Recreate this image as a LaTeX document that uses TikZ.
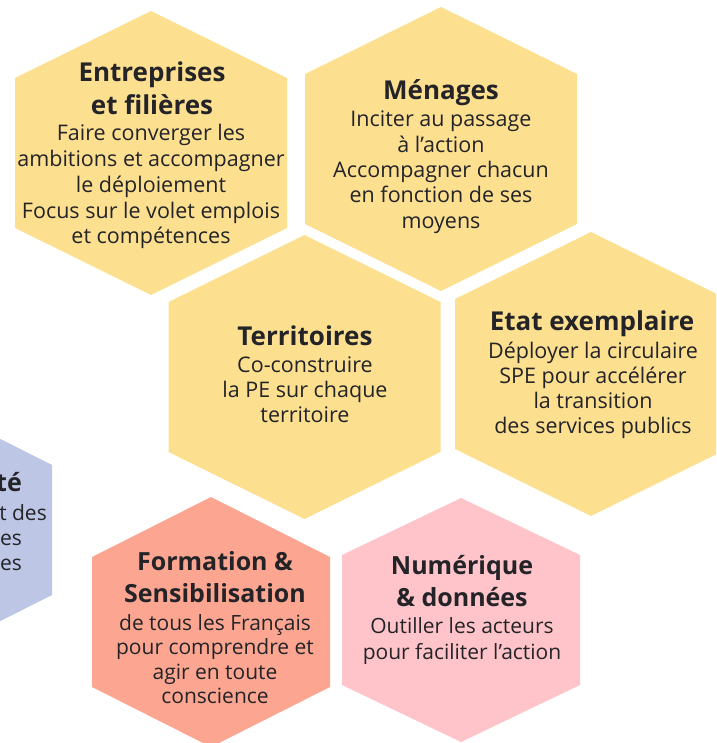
\documentclass[tikz,border=0pt]{standalone}
\usepackage{fontspec}
\setmainfont{Open Sans}
\definecolor{hexyellow}{RGB}{252,224,144}
\definecolor{hexsalmon}{RGB}{252,166,145}
\definecolor{hexpink}{RGB}{254,196,201}
\definecolor{hexblue}{RGB}{189,198,229}
\definecolor{txtdark}{RGB}{35,35,40}
\newcommand\hexshape[6]{% cx cy halfwidth halfside R colour
  \fill[#6] (#1,#2-#5) -- (#1+#3,#2-#4) -- (#1+#3,#2+#4) -- (#1,#2+#5)
    -- (#1-#3,#2+#4) -- (#1-#3,#2-#4) -- cycle;}
\newcommand\hexlines[6]{% style name x y0 dy list
  \foreach \t [count=\i] in {#6} {\node[#1,anchor=base] (#2-\i) at (#3,{#4+(\i-1)*#5}) {\t};}}
\tikzset{
  titletxt/.style={inner sep=0pt,text=txtdark,font=\fontsize{26}{30}\selectfont\bfseries},
  titlesmall/.style={inner sep=0pt,text=txtdark,font=\fontsize{25}{30}\selectfont\bfseries},
  bodytxt/.style={inner sep=0pt,text=txtdark,font=\fontsize{21.5}{25}\selectfont},
  bodysmall/.style={inner sep=0pt,text=txtdark,font=\fontsize{21}{25}\selectfont}
}
\begin{document}
\begin{tikzpicture}[x=1pt,y=-1pt]
\useasboundingbox (0,0) rectangle (716,743);
\clip (0,0) rectangle (716,743);
% hexagons
\hexshape{151}{153}{136}{75}{142}{hexyellow}
\hexshape{441}{149}{136}{75}{142}{hexyellow}
\hexshape{304.5}{377}{136}{75}{142}{hexyellow}
\hexshape{591}{374}{136}{75}{142}{hexyellow}
\hexshape{-67}{530}{119}{65}{125}{hexblue}
\hexshape{211}{622}{119}{65}{125}{hexsalmon}
\hexshape{461}{620}{119}{65}{122}{hexpink}
% Entreprises
\hexlines{titletxt}{ent-t}{152}{82}{33}{Entreprises, et filières}
\hexlines{bodytxt}{ent-b}{151}{141}{25.7}{Faire converger les, ambitions et accompagner, le déploiement, Focus sur le volet emplois, et compétences}
% Ménages
\hexlines{titletxt}{men-t}{441}{100}{33}{Ménages}
\hexlines{bodytxt}{men-b}{441}{127}{25.3}{Inciter au passage, à l’action, Accompagner chacun, en fonction de ses, moyens}
% Territoires
\hexlines{titletxt}{ter-t}{305}{345}{33}{Territoires}
\hexlines{bodytxt}{ter-b}{305}{372}{25.3}{Co-construire, la PE sur chaque, territoire}
% Etat exemplaire
\hexlines{titletxt}{eta-t}{592}{330}{33}{Etat exemplaire}
\hexlines{bodytxt}{eta-b}{593}{358}{25}{Déployer la circulaire, SPE pour accélérer, la transition, des services publics}
% Formation
\hexlines{titlesmall}{for-t}{215}{570}{32}{Formation \&, Sensibilisation}
\hexlines{bodysmall}{for-b}{215}{630}{24.5}{de tous les Français, pour comprendre et, agir en toute, conscience}
% Numerique
\hexlines{titlesmall}{num-t}{462}{574}{32}{Numérique, \& données}
\hexlines{bodysmall}{num-b}{462}{633}{26}{Outiller les acteurs, pour faciliter l’action}
% blue (cut off)
\node[titlesmall,anchor=base east] (blu-t) at (22,491) {té};
\node[bodysmall,anchor=base east] (blu-1) at (47,520) {t des};
\node[bodysmall,anchor=base east] (blu-2) at (22,545) {es};
\node[bodysmall,anchor=base east] (blu-3) at (22,570) {es};
\end{tikzpicture}
\end{document}
